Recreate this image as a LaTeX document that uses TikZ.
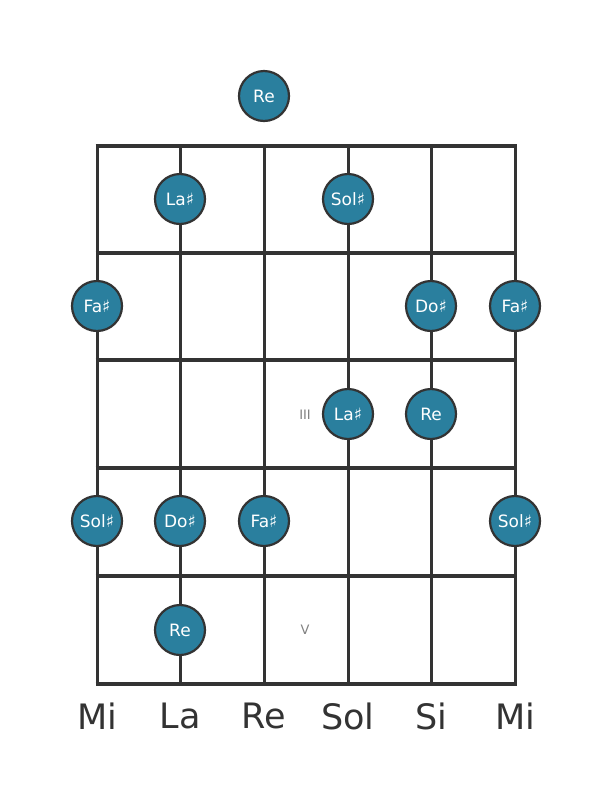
\documentclass[tikz,border=0pt]{standalone}
\usepackage{fontspec}
\setmainfont{DejaVu Sans}
\definecolor{notefill}{HTML}{2A7F9E}
\definecolor{gridcol}{HTML}{333333}
\begin{document}
\begin{tikzpicture}[
    x=1pt, y=-1pt,
    note/.style={circle, draw=gridcol, line width=2.2pt, fill=notefill, text=white,
        minimum size=50pt, inner sep=0pt, font=\fontsize{17}{17}\selectfont},
    fretmark/.style={text=gray, font=\fontsize{13}{13}\selectfont},
    strname/.style={text=gridcol, font=\fontsize{35}{35}\selectfont}
]
    \useasboundingbox (0,0) rectangle (611,801);
    % strings
    \foreach \s/\x in {1/97,2/180,3/264,4/348,5/431,6/515}
        \draw[gridcol, line width=3pt] (\x,146) -- (\x,684);
    % frets
    \foreach \y in {146,253,360,468,576,684}
        \draw[gridcol, line width=4.5pt] (95.5,\y) -- (516.5,\y);
    % fret numbers
    \node[fretmark] (f3) at (305,415) {III};
    \node[fretmark] (f5) at (305,630) {V};
    % notes
    \node[note] (n0) at (264,96) {Re};
    \node[note] (n1a) at (180,199) {La♯};
    \node[note] (n1b) at (348,199) {Sol♯};
    \node[note] (n2a) at (97,306) {Fa♯};
    \node[note] (n2b) at (431,306) {Do♯};
    \node[note] (n2c) at (515,306) {Fa♯};
    \node[note] (n3a) at (348,414) {La♯};
    \node[note] (n3b) at (431,414) {Re};
    \node[note] (n4a) at (97,521) {Sol♯};
    \node[note] (n4b) at (180,521) {Do♯};
    \node[note] (n4c) at (264,521) {Fa♯};
    \node[note] (n4d) at (515,521) {Sol♯};
    \node[note] (n5) at (180,630) {Re};
    % string names
    \foreach \n/\x/\t in {s1/97/Mi,s2/180/La,s3/264/Re,s4/348/Sol,s5/431/Si,s6/515/Mi}
        \node[strname] (\n) at (\x,716) {\t};
\end{tikzpicture}
\end{document}
